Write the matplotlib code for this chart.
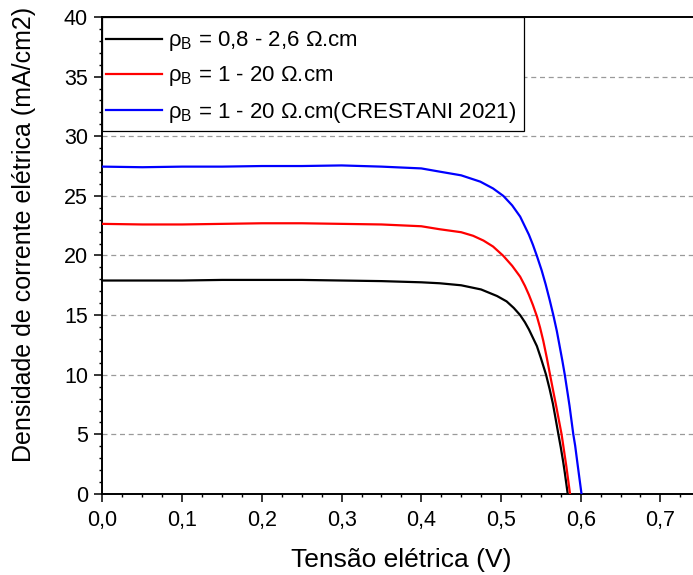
import matplotlib
matplotlib.use("Agg")
import matplotlib.pyplot as plt
from matplotlib.patches import Rectangle
from matplotlib.ticker import MultipleLocator, FuncFormatter

plt.rcParams['font.family'] = ['Liberation Sans', 'DejaVu Sans']
plt.rcParams['mathtext.fontset'] = 'custom'
plt.rcParams['mathtext.rm'] = 'Liberation Sans'
plt.rcParams['mathtext.it'] = 'Liberation Sans'

# J-V curves: voltage (V) and current density (mA/cm2)
v_black = [0.0, 0.05, 0.10, 0.15, 0.20, 0.25, 0.30, 0.35, 0.40, 0.423, 0.45, 0.475,
           0.495, 0.507, 0.516, 0.524, 0.53, 0.535, 0.54, 0.545, 0.55, 0.5565, 0.561,
           0.565, 0.568, 0.572, 0.575, 0.578, 0.58, 0.5837]
j_black = [17.9, 17.9, 17.9, 17.95, 17.95, 17.95, 17.9, 17.85, 17.75, 17.67, 17.5, 17.15,
           16.6, 16.15, 15.6, 15.0, 14.4, 13.8, 13.1, 12.4, 11.4, 10.0, 8.8,
           7.6, 6.5, 5.0, 3.9, 2.7, 1.8, 0.0]

v_red = [0.0, 0.05, 0.10, 0.15, 0.20, 0.25, 0.30, 0.35, 0.40, 0.423, 0.45, 0.465,
         0.478, 0.49, 0.503, 0.514, 0.524, 0.53, 0.535, 0.54, 0.545, 0.549, 0.553, 0.5575,
         0.5615, 0.565, 0.569, 0.573, 0.576, 0.579, 0.582, 0.5866]
j_red = [22.65, 22.6, 22.6, 22.65, 22.7, 22.7, 22.65, 22.6, 22.45, 22.2, 21.95, 21.65,
         21.25, 20.75, 19.96, 19.13, 18.22, 17.45, 16.7, 15.85, 14.9, 13.95, 12.85, 11.4,
         10.0, 8.8, 7.45, 6.05, 5.0, 3.65, 2.3, 0.0]

v_blue = [0.0, 0.05, 0.10, 0.15, 0.20, 0.25, 0.30, 0.35, 0.40, 0.423, 0.45, 0.474,
          0.49, 0.503, 0.514, 0.524, 0.535, 0.54, 0.545, 0.551, 0.556, 0.561, 0.5657,
          0.57, 0.573, 0.577, 0.58, 0.584, 0.586, 0.5907, 0.593, 0.596, 0.601]
j_blue = [27.45, 27.4, 27.45, 27.45, 27.5, 27.5, 27.55, 27.45, 27.3, 27.03, 26.72, 26.19,
          25.62, 24.99, 24.2, 23.26, 21.74, 20.9, 19.96, 18.75, 17.58, 16.28, 14.98,
          13.67, 12.6, 11.16, 10.0, 8.26, 7.37, 5.0, 4.06, 2.52, 0.0]

labels = ["ρ$_\\mathrm{B}$ = 0,8 - 2,6 Ω.cm",
          "ρ$_\\mathrm{B}$ = 1 - 20 Ω.cm",
          "ρ$_\\mathrm{B}$ = 1 - 20 Ω.cm(CRESTANI 2021)"]

x_ticks = [0.0, 0.1, 0.2, 0.3, 0.4, 0.5, 0.6, 0.7]
y_ticks = [0, 5, 10, 15, 20, 25, 30, 35, 40]

fig = plt.figure(figsize=(6.93, 5.75), dpi=100)
ax = fig.add_axes([0.1479, 0.1409, 0.8626, 0.8296])

for yv in y_ticks[1:-1]:
    ax.axhline(yv, color='#9a9a9a', lw=0.9, ls=(0, (4, 3)), zorder=1)

ax.plot(v_black, j_black, color='black', lw=1.6, label=labels[0], zorder=3)
ax.plot(v_red, j_red, color='#ff0000', lw=1.6, label=labels[1], zorder=3)
ax.plot(v_blue, j_blue, color='#0000ff', lw=1.6, label=labels[2], zorder=3)

ax.set_xlim(0, 0.75)
ax.set_ylim(0, 40)
ax.set_xticks(x_ticks)
ax.set_yticks(y_ticks)
ax.xaxis.set_minor_locator(MultipleLocator(0.025))
ax.yaxis.set_minor_locator(MultipleLocator(1))
ax.xaxis.set_major_formatter(FuncFormatter(lambda v, p: f"{v:.1f}".replace('.', ',')))
ax.tick_params(which='major', direction='out', length=5.5, width=1.1, labelsize=15.5)
ax.tick_params(axis='y', which='major', pad=5)
ax.tick_params(axis='x', which='major', pad=6)
ax.tick_params(which='minor', direction='out', length=2.5, width=1.0)
for s in ax.spines.values():
    s.set_linewidth(1.4)

ax.set_xlabel("Tensão elétrica (V)", fontsize=19, labelpad=12)
ax.set_ylabel("Densidade de corrente elétrica (mA/cm2)", fontsize=18)
ax.yaxis.set_label_coords(-0.112, 0.545)

# legend box: white panel with thin black border in the upper-left corner
ax.add_patch(Rectangle((0, 0.761), 0.705, 0.239, transform=ax.transAxes,
                       facecolor='white', edgecolor='black', lw=0.9,
                       zorder=4, clip_on=False))
leg = ax.legend(loc='upper left', bbox_to_anchor=(0.006, 0.974), borderaxespad=0,
                borderpad=0, fontsize=16, frameon=False,
                handlelength=2.5, handletextpad=0.3, labelspacing=0.5)
leg.set_zorder(5)

fig.savefig("out.png", dpi=100)
